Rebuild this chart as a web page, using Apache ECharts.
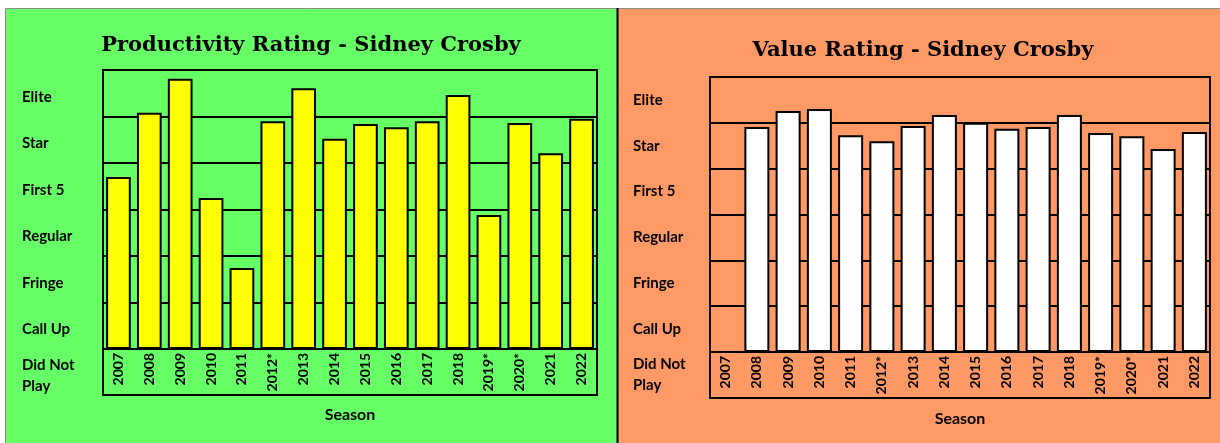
<!DOCTYPE html>
<html>
<head>
<meta charset="utf-8">
<script src="https://cdn.jsdelivr.net/npm/echarts@6/dist/echarts.min.js"></script>
<style>
html,body{margin:0;padding:0;background:#fff;}
#chart{width:1220px;height:443px;}
</style>
</head>
<body>
<div id="chart"></div>
<script>
// ---- data ----
const seasons = ['2007','2008','2009','2010','2011','2012*','2013','2014','2015','2016','2017','2018','2019*','2020*','2021','2022'];
const ratingLabels = ['Did Not\nPlay','Call Up','Fringe','Regular','First 5','Star','Elite'];
const productivity = [3.70, 5.08, 5.81, 3.25, 1.74, 4.90, 5.61, 4.52, 4.84, 4.77, 4.90, 5.46, 2.88, 4.86, 4.21, 4.95];
const valueRating = [null, 4.91, 5.26, 5.30, 4.73, 4.60, 4.93, 5.17, 5.00, 4.87, 4.91, 5.17, 4.78, 4.71, 4.43, 4.80];
const titles = ['Productivity Rating - Sidney Crosby', 'Value Rating - Sidney Crosby'];
const axisName = 'Season';

// ---- layout ----
const panels = [
  {frame:{left:103, top:70, width:494, bottom:395}, plotBottom:349, labelX:22, labelShift:4, titleX:306, titleY:41, fill:'#66FF66', barColor:'#FFFF00', data:productivity, nameGap:58},
  {frame:{left:710, top:77, width:500, bottom:398}, plotBottom:352, labelX:633, labelShift:0, titleX:918, titleY:46, fill:'#FF9966', barColor:'#FFFFFF', data:valueRating, nameGap:59}
];

const labelFont = 'Lato';
const grids = [], xAxes = [], yAxes = [], series = [];
panels.forEach((p, i) => {
  const f = p.frame;
  const gA = i*3, gB = i*3+1, gC = i*3+2;
  // frame box
  grids.push({left:f.left, top:f.top, width:f.width, height:f.bottom - f.top, show:true, borderColor:'#000', borderWidth:2, backgroundColor:'transparent'});
  // bars
  grids.push({left:f.left, top:f.top, width:f.width, height:p.plotBottom - f.top, show:false});
  // rating labels
  grids.push({left:f.left, top:f.top + p.labelShift, width:f.width, height:f.bottom - f.top, show:false});

  xAxes.push({gridIndex:gA, type:'value', show:false, min:0, max:1});
  xAxes.push({
    gridIndex:gB, type:'category', data:seasons,
    axisLine:{show:true, lineStyle:{color:'#000', width:2}},
    axisTick:{show:false},
    axisLabel:{rotate:90, margin:4, color:'#000', fontFamily:labelFont, fontWeight:'bold', fontSize:14, interval:0},
    name:axisName, nameLocation:'middle', nameGap:p.nameGap,
    nameTextStyle:{color:'#000', fontFamily:labelFont, fontWeight:'bold', fontSize:16}
  });
  xAxes.push({gridIndex:gC, type:'value', show:false, min:0, max:1});

  yAxes.push({gridIndex:gA, type:'value', show:false, min:0, max:1});
  yAxes.push({
    gridIndex:gB, type:'value', min:0, max:6, interval:1,
    axisLine:{show:false}, axisTick:{show:false}, axisLabel:{show:false},
    splitLine:{show:true, lineStyle:{color:'#000', width:2}}
  });
  yAxes.push({
    gridIndex:gC, type:'category', data:ratingLabels, position:'left',
    axisLine:{show:false}, axisTick:{show:false}, splitLine:{show:false},
    axisLabel:{align:'left', margin:f.left - p.labelX, color:'#000', fontFamily:labelFont, fontWeight:'bold', fontSize:15, lineHeight:21}
  });
  series.push({
    type:'bar', xAxisIndex:gB, yAxisIndex:gB, data:p.data,
    barCategoryGap:'20%',
    itemStyle:{color:p.barColor, borderColor:'#000', borderWidth:2},
    silent:true
  });
});

const chart = echarts.init(document.getElementById('chart'), null, {renderer:'canvas'});
chart.setOption({
  animation:false,
  backgroundColor:'#fff',
  graphic:[
    {type:'rect', z:-10, shape:{x:5.5, y:8.5, width:612, height:440}, style:{fill:panels[0].fill, stroke:'#8a8a8a', lineWidth:1}},
    {type:'rect', z:-10, shape:{x:618, y:8.5, width:610, height:440}, style:{fill:panels[1].fill, stroke:'#8a8a8a', lineWidth:1}},
    {type:'line', z:-9, shape:{x1:617.5, y1:8, x2:617.5, y2:443}, style:{stroke:'#000', lineWidth:2}}
  ],
  title: panels.map((p, i) => ({
    text:titles[i], left:p.titleX, top:p.titleY, textAlign:'center', textVerticalAlign:'middle',
    textStyle:{fontFamily:'DejaVu Serif', fontWeight:'bold', fontSize:21, color:'#000'}
  })),
  grid:grids, xAxis:xAxes, yAxis:yAxes, series:series
});
</script>
</body>
</html>
